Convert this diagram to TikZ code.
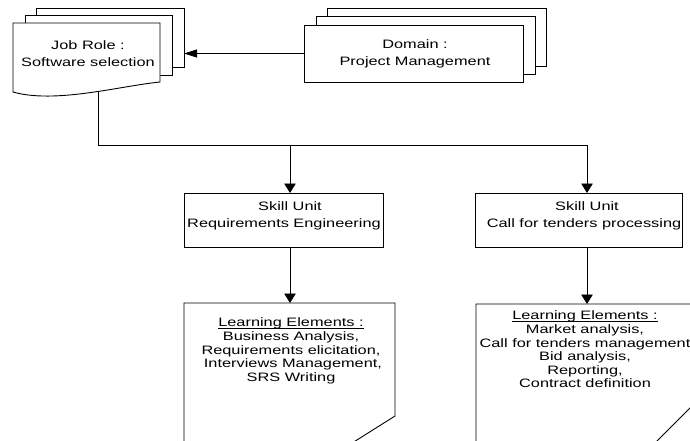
\documentclass[tikz,border=0pt]{standalone}
\usepackage{fontspec}
\setmainfont{Liberation Sans}[FakeStretch=1.34]
\usetikzlibrary{arrows.meta}

\tikzset{
  page/.style={draw=black, fill=white, line width=0.9pt},
  pagebox/.style={page, rectangle, anchor=north west, inner sep=0pt, outer sep=0pt},
  biglbl/.style={align=center, inner sep=0pt, font=\fontsize{12.2}{17}\selectfont},
  listlbl/.style={align=center, inner sep=0pt, font=\fontsize{12.2}{13.6}\selectfont},
  link/.style={draw=black, line width=0.9pt},
  harrow/.style={link, -{Triangle[length=13pt, width=8pt]}},
  varrow/.style={link, -{Triangle[length=9.5pt, width=11.5pt]}},
}
% underlined heading with the rule close under the baseline
\newsavebox{\headbox}
\newcommand{\headline}[1]{\sbox{\headbox}{#1}\rlap{\rule[-2pt]{\wd\headbox}{0.6pt}}\usebox{\headbox}}

\begin{document}
\begin{tikzpicture}[x=1pt, y=-1pt]
\useasboundingbox (0,0) rectangle (690,441);
\clip (0,0) rectangle (690,441);

% Job role: stack of documents
\node[pagebox, minimum width=148pt, minimum height=59pt] (job3) at (36,8) {};
\node[pagebox, minimum width=147pt, minimum height=60pt] (job2) at (25,15) {};
\draw[page] (13,23) -- (160,23) -- (160,82)
  .. controls (120,86) and (55,104) .. (13,92) -- cycle;
\coordinate (jobbot) at (98,91.4);
\node[biglbl] (jobtext) at (88,53.5) {Job Role :\\Software selection};

% Domain: stack of pages
\node[pagebox, minimum width=219pt, minimum height=58pt] (dom3) at (327,8) {};
\node[pagebox, minimum width=219pt, minimum height=58pt] (dom2) at (316,16) {};
\node[pagebox, minimum width=219pt, minimum height=57pt] (dom1) at (304,25) {};
\node[biglbl] (domtext) at (415,53.5) {Domain :\\Project Management};

\draw[harrow] (dom1.west) -- (dom1.west -| job3.east);

% Skill units
\node[pagebox, minimum width=199pt, minimum height=54pt] (skill1) at (184,193) {};
\node[pagebox, minimum width=207pt, minimum height=54pt] (skill2) at (475,193) {};
\node[biglbl] (s1text) at (284,215.5) {\hspace*{12pt}Skill Unit\\Requirements Engineering};
\node[biglbl] (s2text) at (584,215.5) {\hspace*{6pt}Skill Unit\\Call for tenders processing};

% Bus from the job role to both skill units
\coordinate (bus) at (98,145);
\coordinate (s1in) at (290,193);
\coordinate (s2in) at (587,193);
\draw[link] (jobbot) -- (bus);
\draw[varrow] (bus) -| (s2in);
\draw[varrow] (bus -| s1in) -- (s1in);

% Learning element sheets (off-page shapes)
\draw[page] (184,450) -- (184,303) -- (395,303) -- (395,416) -- (341,450);
\draw[page] (476,450) -- (476,304) -- (696,304) -- (696,402) -- (647,451);
\coordinate (l1in) at (290,303);
\coordinate (l2in) at (587,304);
\draw[varrow] (skill1.south -| l1in) -- (l1in);
\draw[varrow] (skill2.south -| l2in) -- (l2in);

\node[listlbl] (l1text) at (291,351) {\headline{Learning Elements :}\\
  Business Analysis,\hspace*{18pt}\\
  Requirements elicitation,\\
  \hspace*{4pt}Interviews Management,\\
  SRS Writing};
\node[listlbl] (l2text) at (585,349.5) {\headline{Learning Elements :}\\
  Market analysis,\hspace*{10pt}\\
  Call for tenders management\\
  Bid analysis,\\
  Reporting,\\
  Contract definition};
\end{tikzpicture}
\end{document}
